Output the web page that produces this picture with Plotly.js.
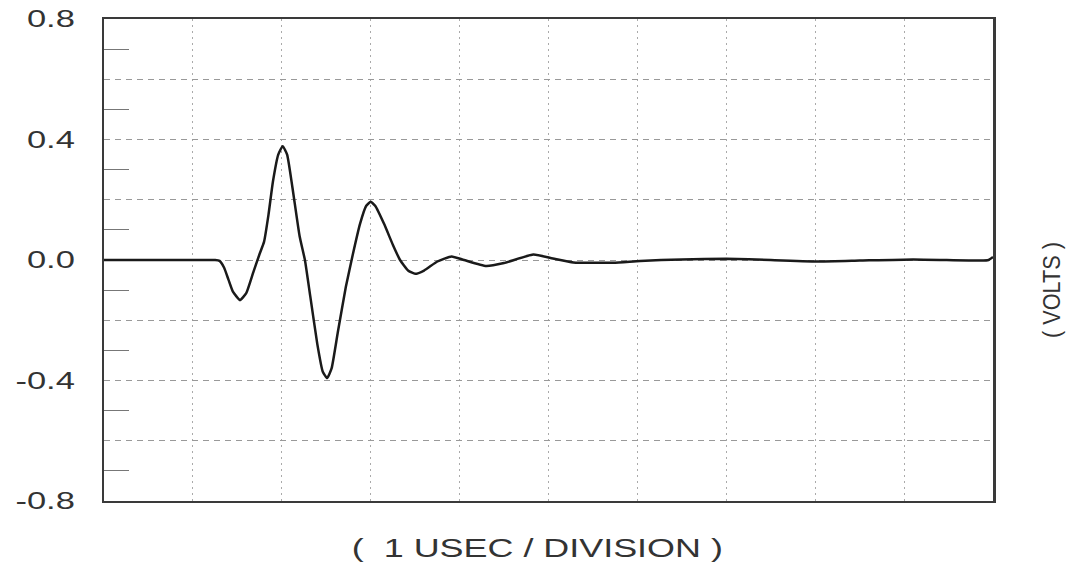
<!DOCTYPE html>
<html>
<head>
<meta charset="utf-8">
<script src="https://cdn.plot.ly/plotly-3.0.1.min.js"></script>
<style>
html,body{margin:0;padding:0;background:#fff;}
#chart{width:1084px;height:564px;}
</style>
</head>
<body>
<div id="chart"></div>
<script>
// Time in microseconds (1 µs per division), voltage in volts
const timeUs = [0, 0.5, 1.0, 1.25, 1.30, 1.35, 1.40, 1.45, 1.53, 1.60, 1.68, 1.75, 1.80, 1.85, 1.90, 1.96, 2.01, 2.06, 2.12, 2.20, 2.26, 2.32, 2.40, 2.46, 2.51, 2.56, 2.63, 2.72, 2.80, 2.88, 2.95, 3.00, 3.05, 3.15, 3.25, 3.33, 3.42, 3.50, 3.60, 3.75, 3.91, 4.05, 4.30, 4.50, 4.83, 5.05, 5.28, 5.73, 6.03, 6.5, 7.0, 7.5, 8.05, 8.5, 9.1, 9.86, 9.95, 10.0];
const volts  = [0, 0, 0, 0, -0.003, -0.025, -0.065, -0.105, -0.133, -0.11, -0.04, 0.02, 0.06, 0.15, 0.26, 0.35, 0.378, 0.35, 0.24, 0.08, 0.0, -0.12, -0.28, -0.37, -0.392, -0.36, -0.24, -0.09, 0.02, 0.12, 0.18, 0.193, 0.18, 0.12, 0.05, 0.0, -0.035, -0.046, -0.035, -0.005, 0.012, 0.0, -0.02, -0.01, 0.018, 0.005, -0.008, -0.009, -0.003, 0.002, 0.004, 0.0, -0.005, -0.002, 0.002, -0.002, 0.0, 0.01];

const yTickVals = [-0.8, -0.6, -0.4, -0.2, 0.0, 0.2, 0.4, 0.6, 0.8];
const yTickText = ['-0.8', '', '-0.4', '', '0.0', '', '0.4', '', '0.8'];
const yMinorVals = [-0.7, -0.5, -0.3, -0.1, 0.1, 0.3, 0.5, 0.7];
const xTickVals = [0, 1, 2, 3, 4, 5, 6, 7, 8, 9, 10];
const xTitle = '(\u00a0 1 USEC / DIVISION )';
const yTitle = '( VOLTS )';

const trace = {
  x: timeUs, y: volts, type: 'scatter', mode: 'lines',
  line: {color: '#1a1a1a', width: 2.5, shape: 'spline', smoothing: 0.45},
  hoverinfo: 'x+y'
};

const font = 'Liberation Sans, Arial, sans-serif';

const layout = {
  width: 1084, height: 564,
  margin: {l: 104, r: 91, t: 19, b: 63},
  paper_bgcolor: '#fff', plot_bgcolor: '#fff',
  showlegend: false,
  font: {family: font, color: '#333'},
  xaxis: {
    range: [0, 10], tickmode: 'array', tickvals: xTickVals, showticklabels: false,
    ticks: '', showgrid: true, gridcolor: '#aaa', gridwidth: 1, griddash: '2px,4px',
    zeroline: false, showline: true, linecolor: '#3a3a3a', linewidth: 2, mirror: true
  },
  yaxis: {
    range: [-0.8, 0.8], tickmode: 'array', tickvals: yTickVals, ticktext: yTickText,
    ticks: '', ticklabelstandoff: 22,
    tickfont: {family: font, size: 23, color: '#333'},
    showgrid: true, gridcolor: '#999', gridwidth: 1, griddash: '6px,5px',
    zeroline: false, showline: true, linecolor: '#3a3a3a', linewidth: 2.5, mirror: true,
    minor: {tickmode: 'array', tickvals: yMinorVals, ticks: 'inside', ticklen: 25, tickwidth: 1.2, tickcolor: '#777', showgrid: false}
  },
  annotations: [{
    text: yTitle, xref: 'paper', yref: 'paper', x: 1, y: 0.438,
    xanchor: 'center', yanchor: 'middle', xshift: 59, textangle: -90, showarrow: false,
    font: {family: font, size: 23, color: '#333'}
  }, {
    text: xTitle, xref: 'paper', yref: 'paper', x: 0.5, y: 0,
    xanchor: 'center', yanchor: 'middle', xshift: -11, yshift: -47, showarrow: false,
    font: {family: font, size: 26, color: '#333'}
  }]
};

function stretch(el, k, fixed) {
  const L = el.getComputedTextLength();
  if (!L) return;
  el.setAttribute('textLength', fixed ? fixed : L * k);
  el.setAttribute('lengthAdjust', 'spacingAndGlyphs');
}

Plotly.newPlot('chart', [trace], layout, {displayModeBar: false, staticPlot: true}).then(() => {
  document.querySelectorAll('.ytick text').forEach(el => stretch(el, 1.5));
  const ann = document.querySelectorAll('.annotation-text');
  if (ann[0]) stretch(ann[0], 1, 96);
  if (ann[1]) stretch(ann[1], 1, 371);
});
</script>
</body>
</html>
